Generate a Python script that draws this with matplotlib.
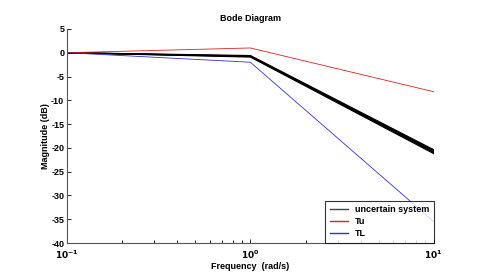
import matplotlib
matplotlib.use("Agg")
import matplotlib.pyplot as plt
import numpy as np

# break points of the asymptotic magnitude curves
freq = [0.1, 1.0, 10.0]
mag_uncertain = [
    [0.0, -0.6, -20.4],
    [0.0, -0.7, -20.6],
    [0.0, -0.75, -20.8],
    [0.0, -0.8, -21.0],
    [0.0, -0.9, -21.2],
]
mag_tu = [0.0, 1.0, -8.2]
mag_tl = [0.0, -2.0, -35.5]
yticks = [5, 0, -5, -10, -15, -20, -25, -30, -35, -40]

plt.rcParams['font.family'] = ['Liberation Sans', 'DejaVu Sans']

fig = plt.figure(figsize=(4.8, 2.72), dpi=100)
ax = fig.add_axes([0.1396, 0.1066, 0.764, 0.787])

for i, m in enumerate(mag_uncertain):
    ax.semilogx(freq, m, color='black', lw=0.9,
                label='uncertain system' if i == 0 else None)
ax.semilogx(freq, mag_tu, color='#e02020', lw=0.6, label='Tu')
ax.semilogx(freq, mag_tl, color='#3030e0', lw=0.6, label='TL')

ax.set_xlim(0.1, 10)
ax.set_ylim(-40, 5)
ax.set_yticks(yticks)
ax.set_yticklabels([str(t) for t in yticks], fontsize=6.5, fontweight='bold')
ax.set_xticks([0.1, 1, 10])
ax.set_xticklabels(['$\\mathbf{10^{-1}}$', '$\\mathbf{10^{0}}$', '$\\mathbf{10^{1}}$'],
                   fontsize=6.5)
ax.tick_params(which='both', direction='in', length=3, width=0.6, pad=2)
ax.tick_params(axis='x', pad=4)
ax.tick_params(which='minor', length=2)
ax.spines['top'].set_visible(False)
ax.spines['right'].set_visible(False)
ax.spines['left'].set_color('#555555')
ax.spines['bottom'].set_color('#555555')

ax.set_title('Bode Diagram', fontsize=6.5, fontweight='bold', pad=6)
ax.set_xlabel('Frequency  (rad/s)', fontsize=6.5, fontweight='bold', labelpad=1)
ax.set_ylabel('Magnitude (dB)', fontsize=6.5, fontweight='bold', labelpad=1)

leg = ax.legend(loc='lower right', prop={'weight': 'bold', 'size': 6.5},
                frameon=True, fancybox=False, borderaxespad=0,
                handlelength=2.0, borderpad=0.5, labelspacing=0.35)
leg.get_frame().set_edgecolor('black')
leg.get_frame().set_linewidth(0.8)
for h in leg.get_lines():
    h.set_linewidth(1.0)
leg.get_lines()[0].set_color('#444444')

fig.savefig('out.png', dpi=100)
